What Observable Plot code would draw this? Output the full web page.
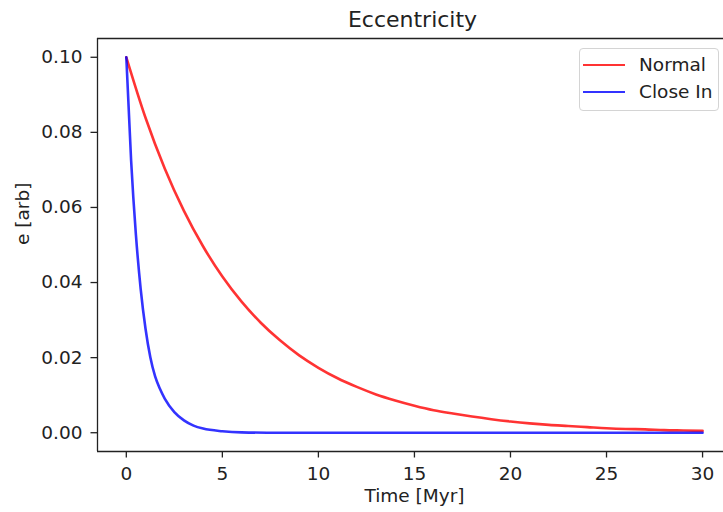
<!DOCTYPE html>
<html>
<head>
<meta charset="utf-8">
<script src="https://cdn.jsdelivr.net/npm/d3@7"></script>
<script src="https://cdn.jsdelivr.net/npm/@observablehq/plot@0.6"></script>
<style>
  html, body { margin: 0; padding: 0; background: white; overflow: hidden; }
  #wrap { position: relative; width: 723px; height: 512px; font-family: "DejaVu Sans", sans-serif; }
  #legend { position: absolute; left: 579px; top: 48px; width: 140px; height: 63px; box-sizing: border-box;
    border: 1px solid #d4d4d4; border-radius: 4px; background: rgba(255,255,255,0.8); }
  .entry { position: absolute; left: 0; height: 20px; display: flex; align-items: center; font-size: 18.5px; color: #222; line-height: 20px; }
  .swatch { width: 42px; height: 0; border-top: 2.6px solid; margin-left: 3px; margin-right: 14px; }
</style>
</head>
<body>
<div id="wrap"></div>
<script>
// Data
const normalTime = [0,1,2,3,4,5,6,7,8,9,10,11,12,13,14,15,16,17,18,19,20,21,22,23,24,25,26,27,28,29,30];
const normalEcc  = [0.1000,0.0839,0.0704,0.0591,0.0496,0.0416,0.0349,0.0293,0.0246,0.0206,0.0173,0.0145,0.0122,0.0102,0.0086,0.0072,0.0060,0.0051,0.0043,0.0036,0.0030,0.0025,0.0021,0.0018,0.0015,0.0012,0.0010,0.0009,0.0007,0.0006,0.0005];
const closeTime = [0,0.25,0.5,0.75,1,1.25,1.5,1.75,2,2.5,3,3.5,4,5,6,8,10,15,20,25,30];
const closeEcc  = [0.1000,0.0725,0.0527,0.0382,0.0277,0.0201,0.0150,0.0117,0.0091,0.0055,0.0033,0.0019,0.0011,0.0004,0.0001,0,0,0,0,0,0];
const seriesNames = ["Normal", "Close In"];
const seriesColors = ["red", "blue"];
const xTicks = [0,5,10,15,20,25,30];
const yTicks = [0.00,0.02,0.04,0.06,0.08,0.10];
const titleText = "Eccentricity";
const xLabel = "Time [Myr]";
const yLabel = "e [arb]";

const normal = normalTime.map((t, i) => ({t, e: normalEcc[i]}));
const closeIn = closeTime.map((t, i) => ({t, e: closeEcc[i]}));

const xDomain = [-1.5, 31.09];
const yDomain = [-0.005, 0.105];
const ink = "#222";

const chart = Plot.plot({
  width: 723,
  height: 512,
  marginLeft: 97,
  marginRight: 0,
  marginTop: 38,
  marginBottom: 61,
  style: {fontFamily: "DejaVu Sans, sans-serif", fontSize: "18.5px", color: ink, background: "white", overflow: "hidden"},
  x: {domain: xDomain},
  y: {domain: yDomain},
  marks: [
    Plot.axisX(xTicks, {tickSize: 6.5, tickPadding: 9, fontSize: 18.5, label: null, stroke: ink, strokeWidth: 1.3}),
    Plot.axisY(yTicks, {tickSize: 6.5, tickPadding: 8.5, fontSize: 18.5, label: null, tickFormat: d3.format(".2f"), stroke: ink, strokeWidth: 1.3}),
    Plot.ruleX([xDomain[0]], {stroke: ink, strokeWidth: 1.3}),
    Plot.ruleY([yDomain[0], yDomain[1]], {stroke: ink, strokeWidth: 1.3}),
    Plot.line(normal, {x: "t", y: "e", stroke: seriesColors[0], strokeOpacity: 0.8, strokeWidth: 2.6, curve: "monotone-x"}),
    Plot.line(closeIn, {x: "t", y: "e", stroke: seriesColors[1], strokeOpacity: 0.8, strokeWidth: 2.6, curve: "monotone-x"}),
    Plot.text([titleText], {frameAnchor: "top", lineAnchor: "middle", dy: -18.5, dx: 2, fontSize: 22, fill: ink}),
    Plot.text([xLabel], {frameAnchor: "bottom", lineAnchor: "middle", dy: 45, dx: 4, fontSize: 18.5, fill: ink}),
    Plot.text([yLabel], {frameAnchor: "left", dx: -74, rotate: -90, fontSize: 18.5, fill: ink})
  ]
});

const wrap = document.getElementById("wrap");
wrap.appendChild(chart);

const legend = document.createElement("div");
legend.id = "legend";
seriesNames.forEach((name, i) => {
  const entry = document.createElement("div");
  entry.className = "entry";
  entry.style.top = (5.5 + i * 27.7) + "px";
  const sw = document.createElement("span");
  sw.className = "swatch";
  sw.style.borderTopColor = seriesColors[i];
  sw.style.opacity = 0.8;
  entry.appendChild(sw);
  const lab = document.createElement("span");
  lab.textContent = name;
  entry.appendChild(lab);
  legend.appendChild(entry);
});
wrap.appendChild(legend);
</script>
</body>
</html>
